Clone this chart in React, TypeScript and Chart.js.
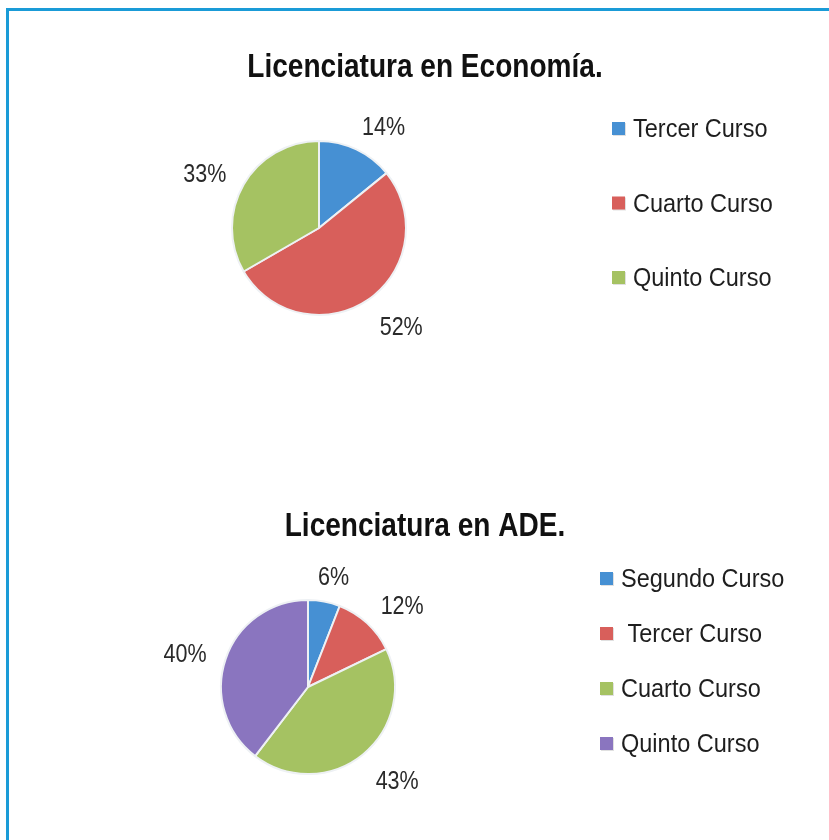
import React, { useEffect, useRef } from "react";
import { Chart, registerables } from "chart.js";

Chart.register(...registerables);

// ---- data ----
const econTitle = "Licenciatura en Economía.";
const econLabels = ["Tercer Curso", "Cuarto Curso", "Quinto Curso"];
const econValues = [14, 52, 33];
const econColors = ["#4690d3", "#d85f5b", "#a5c262"];

const adeTitle = "Licenciatura en ADE.";
const adeLabels = ["Segundo Curso", " Tercer Curso", "Cuarto Curso", "Quinto Curso"];
const adeValues = [6, 12, 43, 40];
const adeColors = ["#4690d3", "#d85f5b", "#a5c262", "#8a75bf"];

const FONT = '"Liberation Sans", Arial, Helvetica, sans-serif';

type Cfg = {
  title: string;
  titleX: number;
  titleY: number;
  legendX: number;
  legendY: number;
  legendStep: number;
  colors: string[];
};

function drawText(
  ctx: CanvasRenderingContext2D,
  text: string,
  x: number,
  y: number,
  size: number,
  weight: string,
  scaleX: number,
  align: "left" | "center" | "right",
  color: string
) {
  ctx.save();
  ctx.font = `${weight} ${size}px ${FONT}`;
  const w = ctx.measureText(text).width * scaleX;
  const left = align === "center" ? x - w / 2 : align === "right" ? x - w : x;
  ctx.translate(left, y);
  ctx.scale(scaleX, 1);
  ctx.textAlign = "left";
  ctx.textBaseline = "alphabetic";
  ctx.fillStyle = color;
  ctx.fillText(text, 0, 0);
  ctx.restore();
  return w;
}

const clamp = (v: number) => Math.max(-1, Math.min(1, v));

const decoPlugin = {
  id: "deco",
  afterDraw(chart: any) {
    const cfg: Cfg = chart.options.plugins.deco;
    const ctx: CanvasRenderingContext2D = chart.ctx;
    // title
    drawText(ctx, cfg.title, cfg.titleX, cfg.titleY, 33, "bold", 0.85, "center", "#111");

    // percentage labels outside the slices
    const meta = chart.getDatasetMeta(0);
    const data = chart.data.datasets[0].data as number[];
    const labelSize = 25;
    const labelScale = 0.86;
    const capH = labelSize * 0.716;
    meta.data.forEach((arc: any, i: number) => {
      const p = arc.getProps(["x", "y", "startAngle", "endAngle", "outerRadius"], true);
      const mid = (p.startAngle + p.endAngle) / 2;
      const R = p.outerRadius + 20;
      const px = p.x + Math.cos(mid) * R;
      const py = p.y + Math.sin(mid) * R;
      const text = `${data[i]}%`;
      ctx.save();
      ctx.font = `normal ${labelSize}px ${FONT}`;
      const w = ctx.measureText(text).width * labelScale;
      ctx.restore();
      const cx = px + (w / 2) * clamp(Math.cos(mid) * 2);
      const cy = py + (capH / 2) * Math.sin(mid) + 3;
      drawText(ctx, text, cx, cy + capH / 2, labelSize, "normal", labelScale, "center", "#2a2a2a");
    });

    // legend
    const labels = chart.data.labels as string[];
    labels.forEach((lab: string, i: number) => {
      const y = cfg.legendY + i * cfg.legendStep;
      ctx.save();
      ctx.fillStyle = "rgba(0,0,0,0.12)";
      ctx.fillRect(cfg.legendX + 1, y - 6 + 1, 13, 13);
      ctx.fillStyle = cfg.colors[i];
      ctx.fillRect(cfg.legendX, y - 6, 13, 13);
      ctx.restore();
      drawText(ctx, lab, cfg.legendX + 21, y + 9, 25, "normal", 0.94, "left", "#1e1e1e");
    });
  },
};

function PieCanvas(props: {
  labels: string[];
  values: number[];
  colors: string[];
  top: number;
  padding: { left: number; right: number; top: number; bottom: number };
  cfg: Cfg;
}) {
  const ref = useRef<HTMLCanvasElement | null>(null);
  useEffect(() => {
    if (!ref.current) return;
    const chart = new Chart(ref.current, {
      type: "pie",
      data: {
        labels: props.labels,
        datasets: [
          {
            data: props.values,
            backgroundColor: props.colors,
            borderColor: "#eef1f4",
            borderWidth: 2,
            hoverOffset: 0,
          },
        ],
      },
      options: {
        responsive: false,
        animation: false,
        radius: 87,
        rotation: 0,
        layout: { padding: props.padding },
        plugins: {
          legend: { display: false },
          title: { display: false },
          tooltip: { enabled: false },
          // @ts-ignore
          deco: props.cfg,
        },
      } as any,
      plugins: [decoPlugin],
    });
    return () => chart.destroy();
  }, []);
  return (
    <canvas
      ref={ref}
      width={829}
      height={420}
      style={{ position: "absolute", left: 0, top: props.top, width: 829, height: 420 }}
    />
  );
}

export default function App() {
  return (
    <div
      style={{
        position: "absolute",
        left: 0,
        top: 0,
        width: 829,
        height: 840,
        background: "#ffffff",
        overflow: "hidden",
      }}
    >
      <PieCanvas
        labels={econLabels}
        values={econValues}
        colors={econColors}
        top={0}
        padding={{ left: 219, right: 410, top: 128, bottom: 92 }}
        cfg={{
          title: econTitle,
          titleX: 425,
          titleY: 77,
          legendX: 612,
          legendY: 128,
          legendStep: 74.5,
          colors: econColors,
        }}
      />
      <PieCanvas
        labels={adeLabels}
        values={adeValues}
        colors={adeColors}
        top={420}
        padding={{ left: 208, right: 421, top: 167, bottom: 53 }}
        cfg={{
          title: adeTitle,
          titleX: 425,
          titleY: 116,
          legendX: 600,
          legendY: 158,
          legendStep: 55,
          colors: adeColors,
        }}
      />
      <div
        style={{
          position: "absolute",
          left: 6,
          top: 8,
          width: 829,
          height: 840,
          borderTop: "3px solid #1a9bd7",
          borderLeft: "3px solid #1a9bd7",
          boxSizing: "border-box",
          pointerEvents: "none",
        }}
      />
    </div>
  );
}
